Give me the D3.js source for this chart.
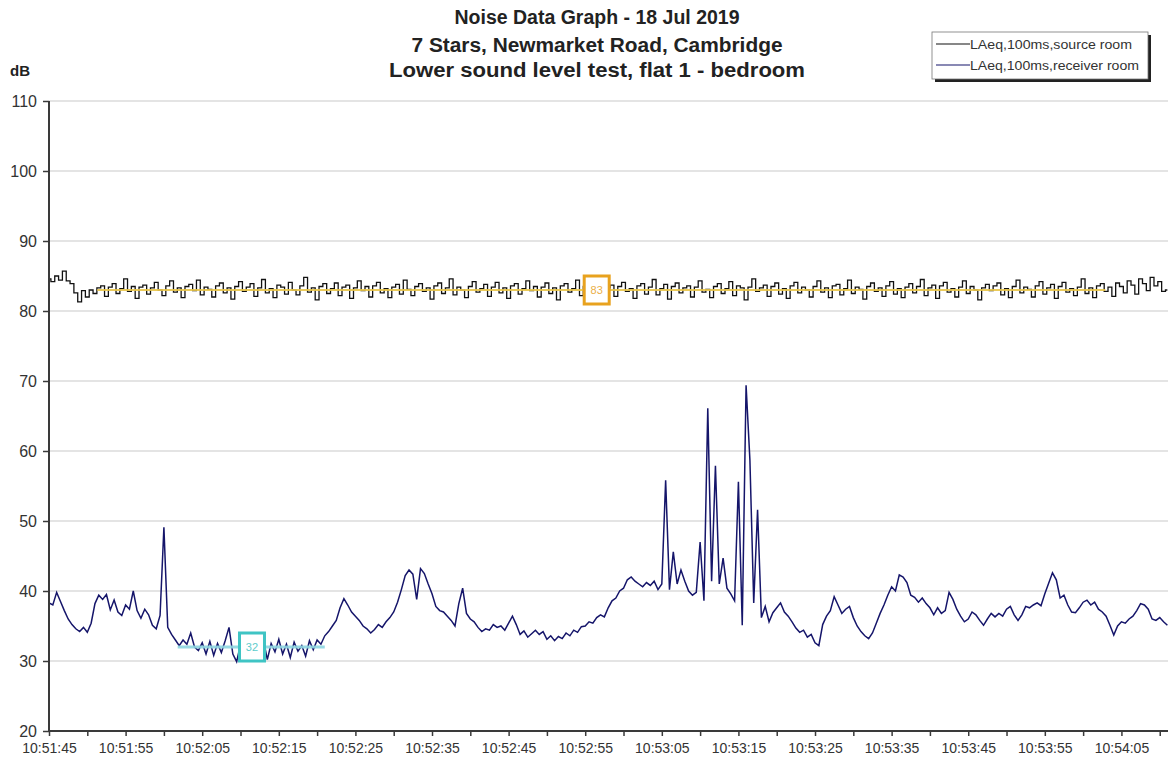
<!DOCTYPE html>
<html>
<head>
<meta charset="utf-8">
<script src="https://cdn.jsdelivr.net/npm/d3@7"></script>
<style>
  html, body { margin: 0; padding: 0; background: #fff; }
  svg { display: block; font-family: "Liberation Sans", Arial, sans-serif; }
</style>
</head>
<body>
<svg id="chart" width="1168" height="763"></svg>
<script>
// ---- Data -------------------------------------------------------------
const titleLines = [
  "Noise Data Graph - 18 Jul 2019",
  "7 Stars, Newmarket Road, Cambridge",
  "Lower sound level test, flat 1 - bedroom"
];
const seriesNames = ["LAeq,100ms,source room", "LAeq,100ms,receiver room"];
const startTime = "2019-07-18T10:51:45";
const sampleStepSec = 0.5;

const xTickLabels = ["10:51:45", "10:51:55", "10:52:05", "10:52:15", "10:52:25", "10:52:35",
  "10:52:45", "10:52:55", "10:53:05", "10:53:15", "10:53:25", "10:53:35", "10:53:45",
  "10:53:55", "10:54:05"];
const yTicks = [20, 30, 40, 50, 60, 70, 80, 90, 100, 110];

// LAeq in source room (dB)
const sourceRoom = [
  84.6, 84.2, 85.0, 84.4, 85.7, 84.3, 83.9, 82.6, 81.3, 82.9, 82.0, 83.0, 82.5,
  83.3, 83.6, 82.1, 83.4, 83.9, 82.5, 83.2, 84.6, 82.8, 83.5,
  81.8, 83.4, 83.7, 82.4, 83.3, 84.1, 83.0, 82.2, 83.6, 84.3,
  82.7, 83.3, 81.9, 83.5, 83.8, 82.9, 84.4, 82.3, 83.4, 83.1,
  82.0, 83.6, 84.0, 82.6, 83.3, 81.7, 83.5, 84.2, 82.8, 83.4,
  83.9, 82.1, 83.3, 84.5, 82.6, 83.2, 81.9, 83.7, 83.4, 82.4,
  84.1, 83.0, 82.3, 83.6, 84.8, 82.7, 83.3, 81.6, 83.5, 83.9,
  82.5, 83.2, 84.0, 82.2, 83.4, 83.7, 81.8, 83.3, 84.3, 82.9,
  83.5, 82.0, 83.6, 84.1, 82.6, 83.2, 81.9, 83.4, 83.8, 82.4,
  84.4, 83.1, 82.2, 83.5, 83.9, 82.8, 83.3, 81.7, 83.6, 84.0,
  82.5, 83.3, 84.6, 82.3, 83.4, 83.0, 81.9, 83.5, 84.2, 82.7,
  83.2, 83.8, 82.1, 83.4, 84.1, 82.6, 83.3, 81.8, 83.6, 83.9,
  82.4, 83.2, 84.3, 82.9, 83.5, 82.0, 83.4, 84.0, 82.5, 83.3,
  81.6, 83.6, 83.9, 82.7, 83.2, 84.4, 82.2, 83.5, 83.0, 81.9,
  83.4, 84.2, 82.6, 83.3, 83.7, 82.1, 83.5, 84.1, 82.8, 83.2,
  81.8, 83.6, 83.9, 82.4, 83.4, 84.5, 82.3, 83.2, 83.8, 81.7,
  83.5, 84.0, 82.6, 83.3, 83.6, 82.0, 83.4, 84.3, 82.7, 83.1,
  81.9, 83.5, 83.9, 82.5, 83.2, 84.2, 82.2, 83.6, 83.3, 81.6,
  83.4, 84.6, 82.8, 83.3, 83.7, 82.1, 83.5, 84.0, 82.4, 83.2,
  81.8, 83.6, 84.1, 82.6, 83.4, 83.0, 82.0, 83.5, 84.3, 82.7,
  83.3, 81.9, 83.6, 83.8, 82.3, 83.2, 84.4, 82.5, 83.4, 83.1,
  81.7, 83.5, 84.0, 82.8, 83.3, 82.1, 83.6, 84.2, 82.4, 83.2,
  81.9, 83.4, 83.9, 82.6, 83.5, 84.5, 82.2, 83.3, 83.7, 81.8,
  83.6, 84.1, 82.7, 83.2, 82.0, 83.4, 84.3, 82.5, 83.5, 83.0,
  81.6, 83.3, 83.8, 82.9, 83.6, 84.0, 82.3, 83.2, 81.9, 83.5,
  84.4, 82.6, 83.4, 83.1, 82.0, 83.6, 84.2, 82.4, 83.3, 83.8,
  81.8, 83.5, 84.1, 82.7, 83.2, 82.2, 83.4, 84.6, 82.5, 83.3,
  81.9, 83.6, 83.9, 82.8, 83.4, 82.1, 84.0, 83.5, 82.6, 84.3,
  83.7, 82.4, 84.6, 83.9, 82.9, 84.8, 83.6, 84.2, 82.8, 83.0
];

// LAeq in receiver room (dB)
const receiverRoom = [
  38.3, 38.0, 39.8, 38.5, 37.2, 36.0, 35.2, 34.6, 34.2, 34.8,
  34.1, 35.4, 38.2, 39.4, 38.8, 39.5, 37.3, 38.7, 37.0, 36.5,
  38.0, 37.4, 40.0, 37.2, 36.1, 37.4, 36.6, 35.1, 34.6, 36.5,
  49.1, 34.8, 33.8, 33.0, 32.2, 33.0, 32.4, 34.0, 32.0, 31.5,
  32.6, 31.0, 32.8, 30.8, 32.5, 31.2, 32.9, 34.8, 31.0, 29.9,
  32.4, 31.5, 32.8, 31.2, 32.6, 30.9, 33.0, 30.2, 32.5, 31.3,
  33.1, 31.0, 32.4, 30.5, 32.7, 31.4, 32.2, 30.7, 32.9, 31.6,
  33.0, 32.4, 33.6, 34.2, 35.0, 35.8, 37.6, 38.9, 38.0, 37.0,
  36.4, 35.8, 35.0, 34.6, 34.0, 34.5, 35.2, 34.8, 35.6, 36.2,
  37.0, 38.4, 40.2, 42.2, 43.0, 42.4, 38.8, 43.2, 42.5, 41.0,
  39.6, 37.8, 37.2, 37.0, 36.4, 35.8, 35.0, 38.2, 40.4, 36.8,
  36.0, 35.6, 34.8, 34.2, 34.6, 34.4, 35.2, 34.8, 35.0, 34.4,
  35.4, 36.4, 35.2, 33.8, 34.3, 33.4, 33.9, 34.4, 33.8, 34.2,
  33.1, 33.6, 32.9, 33.5, 33.2, 34.0, 33.6, 34.4, 34.1, 34.9,
  35.0, 35.6, 35.4, 36.2, 36.6, 36.3, 37.6, 38.6, 39.0, 40.0,
  40.4, 41.6, 42.0, 41.4, 41.0, 40.6, 41.2, 40.8, 41.4, 40.2,
  41.0, 55.8, 40.2, 45.6, 41.0, 43.0, 41.4, 40.0, 39.4, 39.8,
  47.0, 38.6, 66.1, 41.4, 57.9, 41.0, 44.7, 40.4, 39.6, 38.6,
  55.6, 35.1, 69.4, 58.7, 38.3, 51.6, 36.2, 37.8, 35.6, 36.9,
  37.6, 38.3, 37.0, 36.4, 35.6, 34.7, 34.1, 34.4, 33.4, 33.8,
  32.6, 32.2, 35.2, 36.4, 37.2, 39.2, 38.0, 36.8, 37.4, 37.8,
  36.2, 35.0, 34.2, 33.6, 33.2, 34.0, 35.4, 36.8, 38.0, 39.4,
  40.6, 40.0, 42.3, 42.0, 41.2, 39.4, 39.1, 38.4, 39.0, 38.2,
  37.6, 36.6, 37.6, 36.8, 37.2, 39.8, 38.8, 37.4, 36.4, 35.6,
  36.0, 37.0, 36.6, 35.8, 35.1, 36.0, 36.8, 36.3, 36.8, 36.4,
  37.4, 37.8, 36.6, 35.8, 36.6, 37.8, 37.6, 38.0, 38.3, 37.9,
  39.6, 41.1, 42.6, 41.6, 39.0, 39.4, 38.0, 37.0, 36.9, 37.6,
  38.4, 38.7, 38.0, 38.4, 37.4, 37.0, 36.4, 35.1, 33.7, 35.0,
  35.6, 35.4, 36.0, 36.4, 37.2, 38.2, 38.0, 37.4, 36.0, 35.8,
  36.2, 35.6, 35.1
];

// Average-level markers: value, span of the marker line, and where its tag sits
const averageValues = [83, 32];
const averageStarts = ["10:51:51.3", "10:52:01.8"];
const averageEnds = ["10:54:02.9", "10:52:21.0"];
const averageTags = ["10:52:56.5", "10:52:11.5"];

// ---- Layout -------------------------------------------------------------
const plot = { left: 49, right: 1168, top: 101, bottom: 731 };
const svg = d3.select("#chart");

const t0 = new Date(startTime);
const parseClock = s => {
  const [h, m, sec] = s.split(":");
  const d = new Date(t0);
  d.setHours(+h, +m, 0, 0);
  return new Date(d.getTime() + (+sec) * 1000);
};
const tEnd = new Date(t0.getTime() + 146.08 * 1000);

const x = d3.scaleTime().domain([t0, tEnd]).range([plot.left, plot.right]);
const y = d3.scaleLinear().domain([20, 110]).range([plot.bottom, plot.top]);

const timeAt = i => new Date(t0.getTime() + i * sampleStepSec * 1000);

// ---- Grid ---------------------------------------------------------------
svg.append("g")
  .selectAll("line")
  .data(yTicks.filter(v => v > 20))
  .join("line")
  .attr("x1", plot.left).attr("x2", plot.right)
  .attr("y1", d => y(d)).attr("y2", d => y(d))
  .attr("stroke", "#c9c9c9").attr("stroke-width", 1);

// ---- Series ------------------------------------------------------------
// source room: held sample values (steps); receiver room: joined points
const sourceLine = d3.line()
  .x((d, i) => x(timeAt(i)))
  .y(d => y(d))
  .curve(d3.curveStep);
const receiverLine = d3.line()
  .x((d, i) => x(timeAt(i)))
  .y(d => y(d));

svg.append("clipPath").attr("id", "plotClip")
  .append("rect").attr("x", plot.left).attr("y", plot.top - 20)
  .attr("width", plot.right - plot.left).attr("height", plot.bottom - plot.top + 20);

svg.append("path")
  .datum(sourceRoom)
  .attr("clip-path", "url(#plotClip)")
  .attr("fill", "none").attr("stroke", "#111").attr("stroke-width", 1.3)
  .attr("d", sourceLine);

svg.append("path")
  .datum(receiverRoom)
  .attr("clip-path", "url(#plotClip)")
  .attr("fill", "none").attr("stroke", "#15156a").attr("stroke-width", 1.5)
  .attr("d", receiverLine);

// ---- Average markers ---------------------------------------------------
const markerLineColors = ["#e9c64a", "#8fd6e2"];
const markerBoxColors = ["#e8a21e", "#3fc4c4"];
averageValues.forEach((v, k) => {
  const x1 = x(parseClock(averageStarts[k])), x2 = x(parseClock(averageEnds[k]));
  svg.append("line")
    .attr("x1", x1).attr("x2", x2).attr("y1", y(v)).attr("y2", y(v))
    .attr("stroke", markerLineColors[k]).attr("stroke-width", k === 0 ? 2 : 3)
    .attr("opacity", 0.9);
  const cx = x(parseClock(averageTags[k])), cy = y(v);
  svg.append("rect")
    .attr("x", cx - 12.5).attr("y", cy - 14).attr("width", 25).attr("height", 28)
    .attr("fill", "#fff").attr("stroke", markerBoxColors[k]).attr("stroke-width", 3);
  svg.append("text")
    .attr("x", cx).attr("y", cy + 4)
    .attr("text-anchor", "middle").attr("font-size", 11)
    .attr("fill", markerBoxColors[k]).attr("opacity", 0.85)
    .text(String(v));
});

// ---- Axes --------------------------------------------------------------
const yAxis = svg.append("g")
  .attr("transform", `translate(${plot.left},0)`)
  .call(d3.axisLeft(y).tickValues(yTicks).tickSize(6).tickPadding(6).tickFormat(d3.format("d")));
yAxis.select(".domain").attr("stroke", "#3a3a3a").attr("stroke-width", 2)
  .attr("d", `M0,${plot.top}V${plot.bottom}`);
yAxis.selectAll(".tick line").attr("stroke", "#3a3a3a").attr("stroke-width", 1.5);
yAxis.selectAll(".tick text").attr("font-size", 16).attr("fill", "#333")
  .attr("font-family", "'Liberation Sans', Arial, sans-serif");

const fmt = d3.timeFormat("%H:%M:%S");
const xAxis = svg.append("g")
  .attr("transform", `translate(0,${plot.bottom})`)
  .call(d3.axisBottom(x)
    .ticks(d3.timeSecond.every(5))
    .tickSize(5).tickPadding(7)
    .tickFormat(d => xTickLabels.includes(fmt(d)) ? fmt(d) : ""));
xAxis.select(".domain").attr("stroke", "#3a3a3a").attr("stroke-width", 2)
  .attr("d", `M${plot.left},0H${plot.right}`);
xAxis.selectAll(".tick line").attr("stroke", "#3a3a3a").attr("stroke-width", 1.5);
xAxis.selectAll(".tick text").attr("font-size", 14).attr("fill", "#333")
  .attr("font-family", "'Liberation Sans', Arial, sans-serif");

// ---- Titles ------------------------------------------------------------
const titleBaselines = [24, 52, 77];
const titleWidths = [285, 371, 416];
svg.append("g").selectAll("text")
  .data(titleLines)
  .join("text")
  .attr("x", 597).attr("y", (d, i) => titleBaselines[i])
  .attr("text-anchor", "middle")
  .attr("font-size", 20).attr("font-weight", "bold").attr("fill", "#222")
  .attr("textLength", (d, i) => titleWidths[i])
  .attr("lengthAdjust", "spacingAndGlyphs")
  .text(d => d);

svg.append("text")
  .attr("x", 10).attr("y", 76)
  .attr("font-size", 15).attr("font-weight", "bold").attr("fill", "#222")
  .text("dB");

// ---- Legend ------------------------------------------------------------
const lg = svg.append("g").attr("transform", "translate(932,32)");
lg.append("rect").attr("x", 3).attr("y", 3).attr("width", 216).attr("height", 47).attr("fill", "#222");
lg.append("rect").attr("x", 0).attr("y", 0).attr("width", 216).attr("height", 47)
  .attr("fill", "#fff").attr("stroke", "#777").attr("stroke-width", 0.8);
const legendColors = ["#111", "#15156a"];
const legendWidths = [162, 169];
seriesNames.forEach((name, i) => {
  const yy = 12 + i * 21;
  lg.append("line").attr("x1", 4).attr("x2", 38).attr("y1", yy).attr("y2", yy)
    .attr("stroke", legendColors[i]).attr("stroke-width", 1.2);
  lg.append("text").attr("x", 38).attr("y", yy + 4.5)
    .attr("font-size", 12.5).attr("fill", "#333")
    .attr("textLength", legendWidths[i]).attr("lengthAdjust", "spacingAndGlyphs")
    .text(name);
});
</script>
</body>
</html>
